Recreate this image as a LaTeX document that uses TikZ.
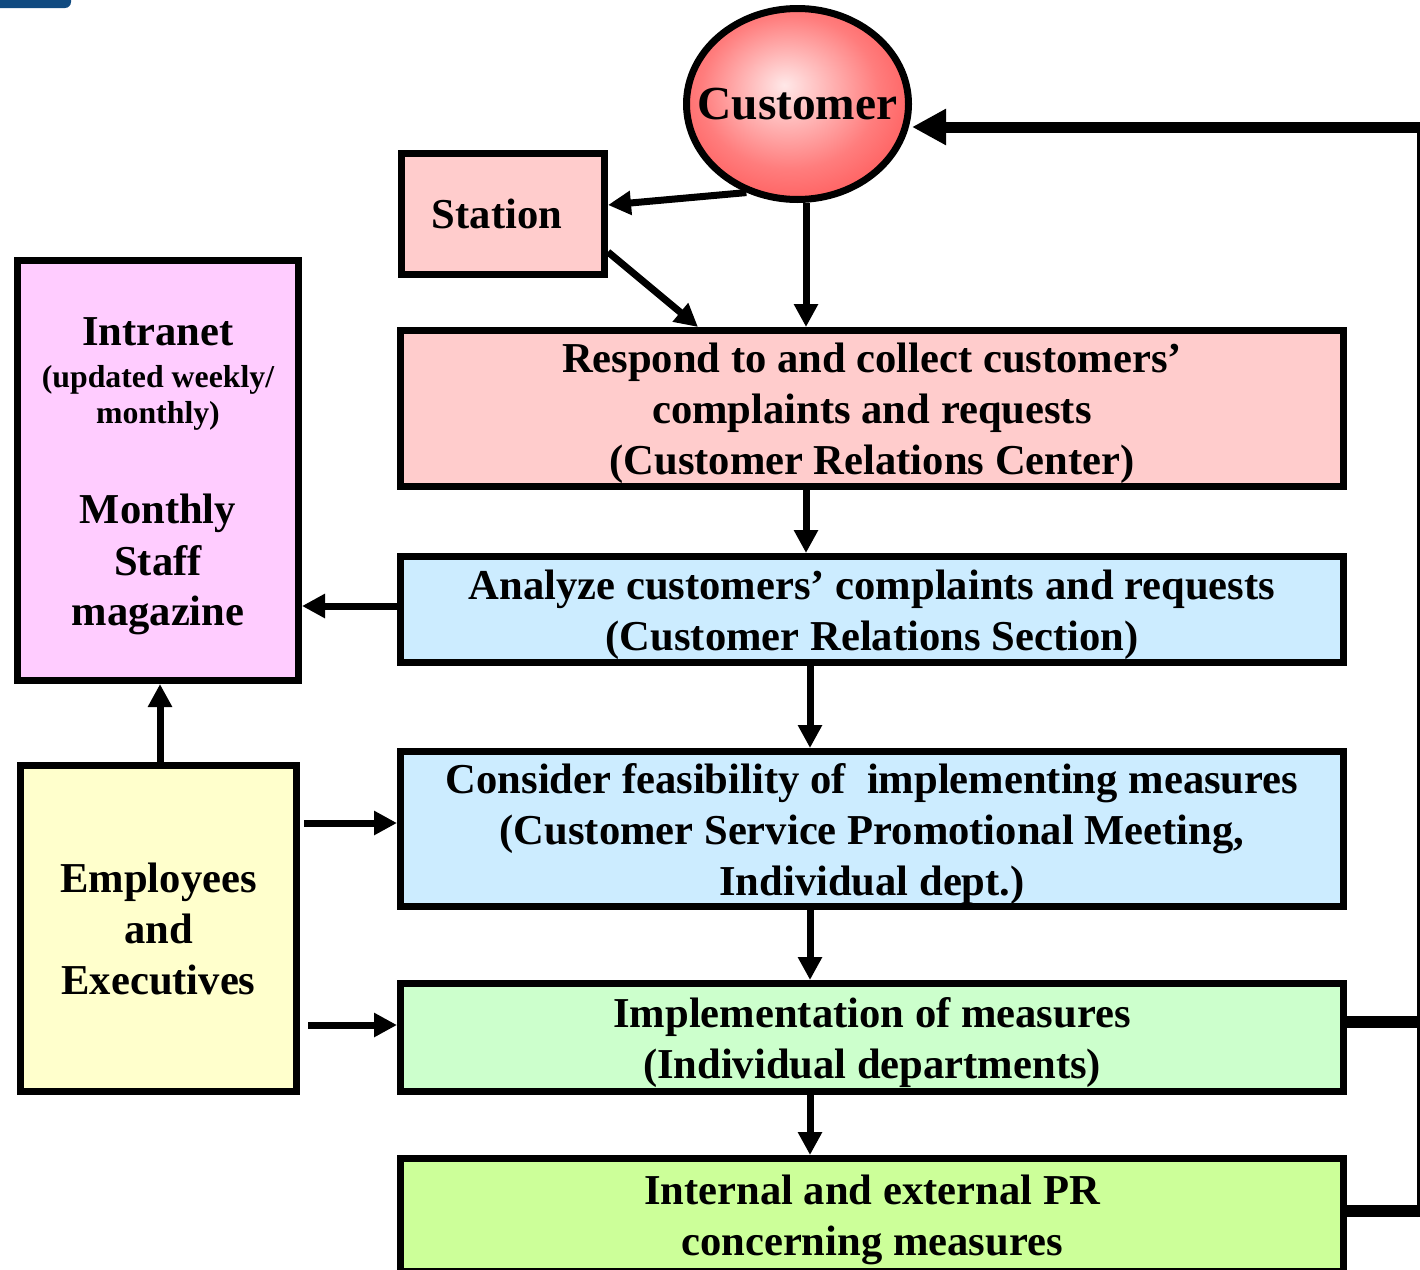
\documentclass[tikz,border=0pt]{standalone}
\usepackage{fontspec}
\setmainfont{Liberation Serif}
\usetikzlibrary{arrows.meta,shapes.geometric}
\definecolor{ballin}{RGB}{255,232,232}
\definecolor{ballmid}{RGB}{255,125,125}
\definecolor{ballout}{RGB}{255,22,22}
\definecolor{pinkbox}{RGB}{255,204,204}
\definecolor{bluebox}{RGB}{204,236,255}
\definecolor{violetbox}{RGB}{255,204,255}
\definecolor{yellowbox}{RGB}{255,255,204}
\definecolor{greenbox}{RGB}{204,255,204}
\definecolor{limebox}{RGB}{204,255,153}
\definecolor{topblue}{RGB}{16,74,128}
\pgfdeclareradialshading{custball}{\pgfpoint{-3bp}{5bp}}{color(0bp)=(ballin); color(20bp)=(ballmid); color(50bp)=(ballout)}
\newcommand\mytopstrut{\rule{0pt}{39.5pt}}
\tikzset{
  bx/.style={draw=black, line width=7pt, align=center, inner sep=0pt,
    font=\fontsize{42.6}{51}\selectfont\bfseries},
  tx/.style={inner sep=0pt, font=\fontsize{42.6}{51}\selectfont\bfseries},
  txs/.style={inner sep=0pt, font=\fontsize{31.8}{36}\selectfont\bfseries},
  arr/.style={line width=7pt, -{Triangle[length=23pt,width=23pt]}},
  bigarr/.style={line width=11pt, -{Triangle[length=34pt,width=34pt]}},
  fbline/.style={line width=12pt},
  thinline/.style={line width=3pt}
}
\begin{document}
\begin{tikzpicture}[x=1pt,y=-1pt]
\useasboundingbox (0,0) rectangle (1420,1269);
\fill[white] (0,0) rectangle (1420,1269);
\fill[topblue, rounded corners=6pt] (-20,-20) rectangle (71,8);

% main nodes
\node[ellipse, draw=black, line width=7pt, shade, shading=custball,
      minimum width=222pt, minimum height=191pt, inner sep=0pt,
      font=\fontsize{47.4}{52}\selectfont\bfseries] (cust) at (797.5,104) {\makebox[0pt]{Customer}};
\node[bx, fill=pinkbox, minimum width=203pt, minimum height=121pt] (station) at (503,214) {Station\hspace*{12pt}};
\node[bx, fill=pinkbox, minimum width=943pt, minimum height=156pt] (resp) at (872,408.5)
  {\mytopstrut Respond to and collect customers’\\complaints and requests\\(Customer Relations Center)};
\node[bx, fill=bluebox, minimum width=943pt, minimum height=106pt] (ana) at (872,609.5)
  {\mytopstrut Analyze customers’ complaints and requests\\(Customer Relations Section)};
\node[bx, fill=bluebox, minimum width=943pt, minimum height=155pt] (cons) at (872,829)
  {\mytopstrut Consider feasibility of\ \ implementing measures\\(Customer Service Promotional Meeting,\\Individual dept.)};
\node[bx, fill=greenbox, minimum width=943pt, minimum height=108pt] (impl) at (872,1037.5)
  {\mytopstrut Implementation of measures\\(Individual departments)};
\node[bx, fill=limebox, minimum width=943pt, minimum height=113pt] (pr) at (872,1215)
  {\mytopstrut Internal and external PR\\concerning measures};
\node[bx, fill=violetbox, minimum width=281pt, minimum height=420pt] (intra) at (158,470.5) {};
\node[bx, fill=yellowbox, minimum width=276pt, minimum height=326pt] (emp) at (158.5,928.5)
  {Employees\\and\\Executives};

% intranet texts
\node[tx, anchor=base] (t1) at (158,345) {Intranet};
\node[txs, anchor=base] (t2) at (158,387) {(updated weekly/};
\node[txs, anchor=base] (t3) at (158,423) {monthly)};
\node[tx, anchor=base] (t4) at (158,523) {Monthly};
\node[tx, anchor=base] (t5) at (158,575) {Staff};
\node[tx, anchor=base] (t6) at (158,625) {magazine};

% helper coordinates
\coordinate (xA) at (806,0);
\coordinate (xB) at (810,0);
\coordinate (xC) at (160,0);
\coordinate (xF) at (1418,0);
\coordinate (yA) at (0,606);
\coordinate (yB) at (0,823);
\coordinate (yC) at (0,1025);
\coordinate (yImp) at (0,1022);
\coordinate (yPR) at (0,1211);
\coordinate (yTop) at (0,127);

% connectors
\draw[arr] (cust.240) -- ([yshift=9pt]station.east);
\draw[arr] ([yshift=-38pt]station.east) -- ([xshift=301pt]resp.north west);
\draw[arr] (cust.south -| xA) -- (resp.north -| xA);
\draw[arr] (resp.south -| xA) -- (ana.north -| xA);
\draw[arr] (ana.south -| xB) -- (cons.north -| xB);
\draw[arr] (cons.south -| xB) -- (impl.north -| xB);
\draw[arr] (impl.south -| xB) -- (pr.north -| xB);
\draw[arr] (ana.west |- yA) -- (intra.east |- yA);
\draw[arr] (emp.north -| xC) -- (intra.south -| xC);
\draw[arr] ([xshift=4pt]emp.east |- yB) -- (cons.west |- yB);
\draw[arr] ([xshift=8pt]emp.east |- yC) -- (impl.west |- yC);

% feedback loop
\draw[fbline] (impl.east |- yImp) -- ([xshift=1.5pt]xF |- yImp);
\draw[fbline] (pr.east |- yPR) -- ([xshift=1.5pt]xF |- yPR);
\draw[thinline] ([yshift=-6pt]xF |- yPR) -- ([yshift=5.5pt]xF |- yTop);
\draw[bigarr] ([xshift=1.5pt]xF |- yTop) -- (cust.east |- yTop);
\end{tikzpicture}
\end{document}
